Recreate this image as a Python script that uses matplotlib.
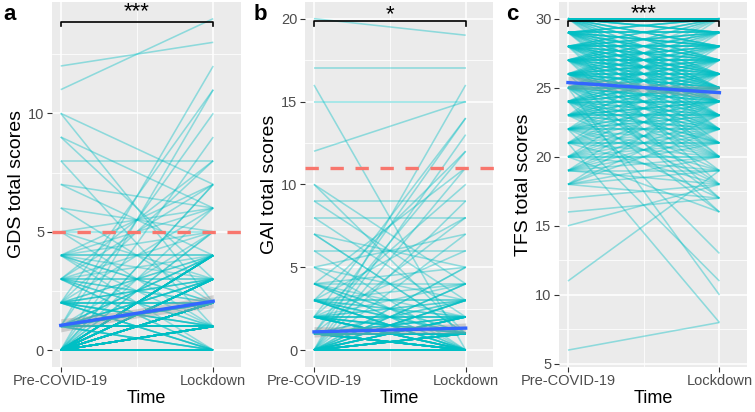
import numpy as np
import matplotlib.pyplot as plt
from matplotlib.collections import LineCollection
from matplotlib.ticker import MultipleLocator

plt.rcParams['font.family'] = ['Liberation Sans', 'DejaVu Sans']

time_labels = ['Pre-COVID-19', 'Lockdown']

# GDS: score before, score in lockdown, number of participants with that pair
gds_pre = [12, 11, 10, 10, 9, 9, 8, 8, 7, 7, 6, 6, 5, 5, 5, 5,
           1, 0, 2, 1, 0, 2, 3, 0, 3, 4, 0, 2, 4, 0, 1, 3, 4,
           0, 0, 0, 0, 0, 1, 1, 1, 1, 1, 2, 2, 2, 2, 2,
           3, 3, 3, 3, 3, 4, 4, 4, 4, 4]
gds_post = [13, 14, 2, 7, 6, 3, 8, 1, 6, 4, 5, 2, 6, 5, 3, 1,
            12, 11, 11, 10, 9, 8, 8, 7, 7, 7, 6, 6, 6, 5, 5, 5, 5,
            0, 1, 2, 3, 4, 0, 1, 2, 3, 4, 0, 1, 2, 3, 4,
            0, 1, 2, 3, 4, 0, 1, 2, 3, 4]
gds_n = [1, 1, 1, 1, 1, 1, 1, 1, 1, 1, 1, 1, 1, 1, 1, 1,
         1, 1, 1, 1, 1, 1, 1, 2, 1, 1, 1, 1, 1, 2, 1, 1, 1,
         73, 30, 25, 19, 15, 4, 9, 8, 4, 3, 4, 4, 4, 3, 2,
         2, 2, 2, 2, 1, 1, 1, 2, 1, 2]

# GAI
gai_pre = [20, 17, 16, 15, 12, 10, 10, 9, 9, 8, 8, 7, 7, 6, 6, 5, 5, 5,
           0, 1, 2, 0, 3, 1, 0, 4, 2, 0, 1, 3, 0, 2, 0, 4,
           0, 0, 0, 0, 0, 1, 1, 1, 1, 2, 2, 2, 2, 2,
           3, 3, 3, 3, 3, 4, 4, 4, 4]
gai_post = [19, 17, 0, 15, 15, 4, 1, 9, 3, 8, 2, 1, 5, 6, 0, 3, 0, 7,
            16, 14, 14, 13, 12, 12, 11, 11, 10, 9, 8, 8, 7, 6, 5, 5,
            0, 1, 2, 3, 4, 0, 1, 2, 3, 0, 1, 2, 3, 4,
            0, 1, 2, 3, 4, 0, 1, 2, 4]
gai_n = [1, 1, 1, 1, 1, 1, 1, 1, 1, 1, 1, 2, 1, 1, 1, 1, 1, 1,
         1, 1, 1, 1, 1, 1, 1, 1, 1, 1, 1, 1, 1, 1, 2, 1,
         167, 18, 10, 5, 3, 20, 10, 4, 2, 10, 5, 4, 2, 1,
         5, 3, 2, 2, 1, 2, 2, 1, 1]

# TFS: counts table, rows = pre score, columns = lockdown score
tfs_pre_levels = [30, 29, 28, 27, 26, 25, 24, 23, 22, 21, 20, 19, 18]
tfs_post_levels = [16, 17, 18, 19, 20, 21, 22, 23, 24, 25, 26, 27, 28, 29, 30]
tfs_counts = [
    [0, 0, 0, 0, 0, 0, 1, 1, 1, 2, 2, 3, 4, 5, 11],
    [0, 0, 0, 0, 1, 1, 1, 1, 2, 3, 3, 4, 5, 5, 4],
    [0, 0, 1, 0, 1, 0, 1, 2, 2, 3, 4, 4, 5, 4, 3],
    [0, 1, 0, 1, 0, 1, 1, 2, 3, 3, 4, 5, 4, 3, 2],
    [1, 0, 0, 0, 1, 1, 2, 2, 3, 4, 4, 4, 3, 2, 1],
    [0, 1, 1, 0, 1, 1, 2, 2, 3, 4, 3, 3, 2, 1, 1],
    [1, 0, 0, 1, 1, 2, 2, 2, 3, 3, 3, 2, 1, 1, 0],
    [0, 0, 1, 0, 1, 1, 2, 3, 3, 2, 2, 1, 1, 0, 1],
    [0, 1, 0, 1, 1, 1, 2, 2, 2, 1, 1, 1, 0, 1, 0],
    [0, 0, 1, 0, 1, 2, 1, 1, 1, 1, 1, 0, 1, 0, 0],
    [1, 0, 0, 1, 2, 1, 1, 1, 1, 1, 0, 1, 0, 0, 0],
    [0, 0, 1, 1, 1, 1, 1, 1, 1, 0, 1, 0, 0, 0, 0],
    [0, 1, 0, 1, 1, 0, 1, 1, 0, 1, 0, 0, 0, 0, 0],
]
tfs_extra_pre = [6, 11, 15, 16, 17, 24, 22, 25, 21]
tfs_extra_post = [8, 19, 18, 17, 18, 13, 11, 10, 8]


def expand(pre, post, n):
    return np.repeat(pre, n).astype(float), np.repeat(post, n).astype(float)


gds = expand(gds_pre, gds_post, gds_n)
gai = expand(gai_pre, gai_post, gai_n)

tp, tq = list(tfs_extra_pre), list(tfs_extra_post)
for i, a in enumerate(tfs_pre_levels):
    for j, b in enumerate(tfs_post_levels):
        tp += [a] * tfs_counts[i][j]
        tq += [b] * tfs_counts[i][j]
tfs = (np.array(tp, float), np.array(tq, float))

XLIM = (-0.059, 1.18)


def draw_panel(ax, data, ylim, ystep, ylabel, cutoff, stars, br_y, br_tip, star_y):
    pre, post = data
    ax.set_facecolor('#EBEBEB')
    segs = [[(0, a), (1, b)] for a, b in zip(pre, post)]
    ax.add_collection(LineCollection(segs, colors='#00BFC4', alpha=0.4, linewidths=1.15, zorder=2))

    # linear fit score ~ time with 95% band
    n = len(pre)
    m0, m1 = pre.mean(), post.mean()
    resid = np.concatenate([pre - m0, post - m1])
    sigma = np.sqrt((resid ** 2).sum() / (2 * n - 2))
    xs = np.linspace(0, 1, 50)
    fit = m0 + (m1 - m0) * xs
    se = sigma * np.sqrt(1 / (2 * n) + (xs - 0.5) ** 2 / (n / 2))
    ax.fill_between(xs, fit - 1.96 * se, fit + 1.96 * se, color='#999999', alpha=0.4, lw=0, zorder=3)
    ax.plot(xs, fit, color='#3366FF', lw=2.4, zorder=4)

    if cutoff is not None:
        ax.plot([XLIM[0], 1.24], [cutoff, cutoff], color='#F8766D', lw=2.4,
                ls=(0, (4, 3.5)), clip_on=False, zorder=3.5)

    ax.plot([0, 0, 1, 1], [br_tip, br_y, br_y, br_tip], color='black', lw=1.2, zorder=6, clip_on=False)
    ax.text(0.5, star_y, stars, ha='center', va='center', fontsize=16, zorder=6)

    ax.set_xlim(*XLIM)
    ax.set_ylim(*ylim)
    ax.set_xticks([0, 1])
    ax.set_xticklabels(time_labels)
    ax.xaxis.set_minor_locator(MultipleLocator(0.5))
    ax.yaxis.set_major_locator(MultipleLocator(ystep))
    ax.yaxis.set_minor_locator(MultipleLocator(ystep / 2))
    ax.grid(which='major', color='white', lw=1.1, zorder=0)
    ax.grid(which='minor', color='white', lw=0.55, zorder=0)
    ax.set_axisbelow(True)
    for s in ax.spines.values():
        s.set_visible(False)
    ax.tick_params(which='major', length=3.5, width=0.8, color='#333333',
                   labelsize=10.5, labelcolor='#4D4D4D', pad=2)
    ax.tick_params(which='minor', length=0)
    ax.set_xlabel('Time', fontsize=13, labelpad=1)
    ax.set_ylabel(ylabel, fontsize=14, labelpad=2)


fig = plt.figure(figsize=(7.55, 4.12), dpi=100)
ax_a = fig.add_axes([0.0685, 0.11, 0.2503, 0.885])
ax_b = fig.add_axes([0.404, 0.11, 0.249, 0.885])
ax_c = fig.add_axes([0.7404, 0.11, 0.2486, 0.885])

draw_panel(ax_a, gds, (-0.7, 14.7), 5, 'GDS total scores', 5, '***', 13.85, 13.68, 14.3)
draw_panel(ax_b, gai, (-1, 21), 5, 'GAI total scores', 11, '*', 19.84, 19.55, 20.25)
draw_panel(ax_c, tfs, (4.8, 31.2), 5, 'TFS total scores', None, '***', 29.8, 29.5, 30.35)

for letter, x in [('a', 3), ('b', 254), ('c', 506)]:
    fig.text(x / 755, 1 - 14 / 412, letter, fontsize=16, fontweight='bold', ha='left', va='center')

fig.savefig('out.png', dpi=100)
